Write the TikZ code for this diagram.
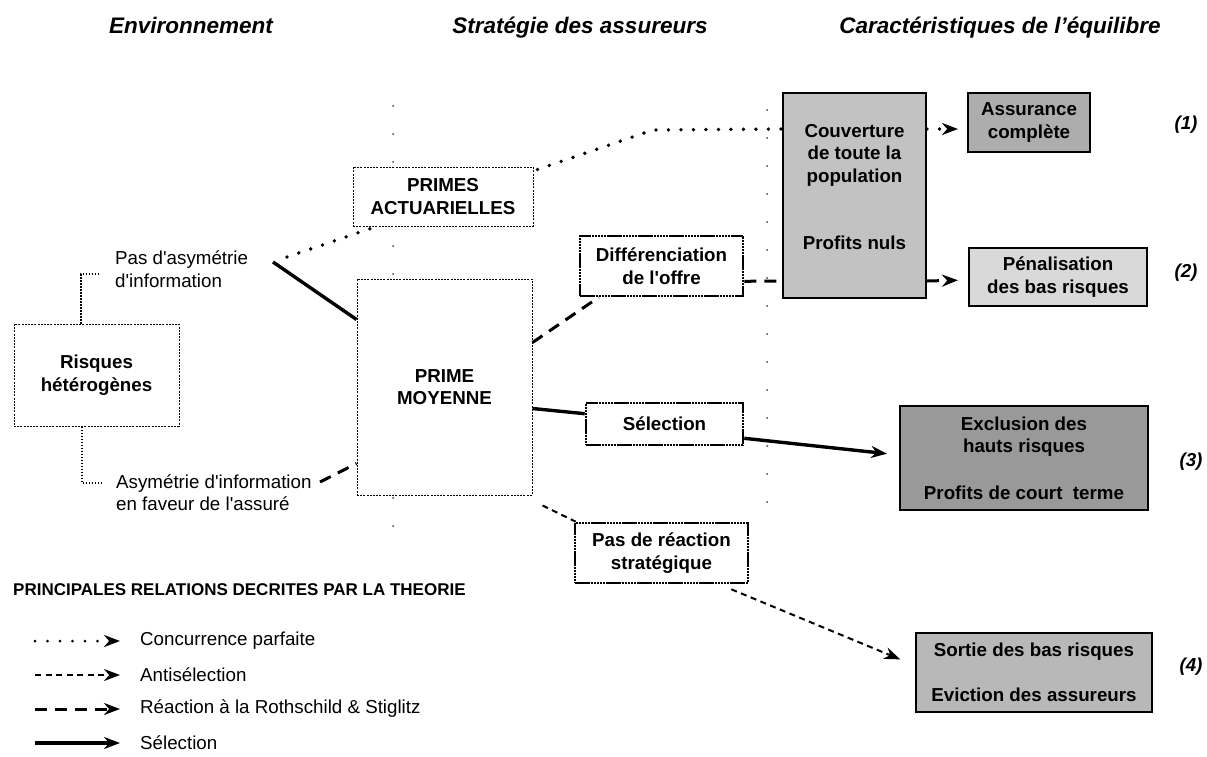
\documentclass[tikz,border=0pt]{standalone}
\usepackage{fontspec}
\setmainfont{Liberation Sans}
\usetikzlibrary{arrows.meta,calc}
\newcommand\qs{\textquotesingle}
\tikzset{
  every node/.style={font=\fontsize{18.75}{22.5}\selectfont},
  hdr/.style={font=\fontsize{22.5}{26}\selectfont\bfseries\itshape, anchor=base},
  lbl/.style={align=left, anchor=west, inner sep=0pt},
  thinbox/.style={draw, line width=1pt, dash pattern=on 2pt off 1.2pt, fill=white, align=center,
    font=\fontsize{18.75}{22.5}\selectfont\bfseries, inner sep=0pt},
  thickbox/.style={draw, line width=2.6pt, dash pattern=on 2.5pt off 0.6pt, fill=white, align=center,
    font=\fontsize{18.75}{22.5}\selectfont\bfseries, inner sep=0pt},
  shadebox/.style={draw, line width=2pt, align=center,
    font=\fontsize{18.75}{22.5}\selectfont\bfseries, inner sep=0pt},
  numlbl/.style={font=\fontsize{18.75}{22.5}\selectfont\bfseries\itshape},
  thindot/.style={line width=1.1pt, dash pattern=on 1.5pt off 1.5pt},
  conc/.style={line width=3.8pt, dash pattern=on 0pt off 12.5pt, line cap=round},
  anti/.style={line width=2pt, dash pattern=on 6pt off 4.5pt},
  roth/.style={line width=3pt, dash pattern=on 12pt off 8pt},
  sel/.style={line width=3.4pt},
  tip/.style={-{Stealth[length=16pt,width=12pt]}},
  sepline/.style={line width=2pt, dash pattern=on 0pt off 28pt, line cap=round, black!75},
}
\begin{document}
\begin{tikzpicture}[x=1pt,y=-1pt]
\useasboundingbox (0,0) rectangle (1207,757);
\fill[white] (0,0) rectangle (1207,757);

% column separators
\draw[sepline] (393,106) -- (393,545);
\draw[sepline] (767,110) -- (767,525);

% headers
\node[hdr] (h1) at (191,34) {Environnement};
\node[hdr] (h2) at (580,34) {Stratégie des assureurs};
\node[hdr] (h3) at (1000,34) {Caractéristiques de l’équilibre};

% boxes
\node[thinbox, minimum width=165pt, minimum height=102pt] (risq) at (96.5,375) {Risques\\hétérogènes};
\node[thinbox, minimum width=180pt, minimum height=59pt] (primes) at (443,196.5) {PRIMES\\ACTUARIELLES};
\node[thinbox, minimum width=175pt, minimum height=216pt] (prime) at (444.5,387) {PRIME\\MOYENNE};
\node[thickbox, minimum width=163pt, minimum height=60pt] (diff) at (661.5,266) {Différenciation\\de l\qs offre};
\node[thickbox, minimum width=157pt, minimum height=42pt] (sel) at (664.5,424) {Sélection};
\node[thickbox, minimum width=173pt, minimum height=60pt] (reac) at (661.5,553) {Pas de réaction\\stratégique};

\node[shadebox, fill=black!24, minimum width=143pt, minimum height=205pt] (couv) at (854.5,195.5) {};
\node[font=\fontsize{18.75}{22.5}\selectfont\bfseries, align=center, inner sep=0pt] (couvt) at (854.5,155) {Couverture\\de toute la\\population};
\node[font=\fontsize{18.75}{22.5}\selectfont\bfseries, inner sep=0pt] (couvp) at (854.5,243) {Profits nuls};
\node[shadebox, fill=black!32, minimum width=122pt, minimum height=59pt] (assur) at (1029,122.5) {Assurance\\complète};
\node[shadebox, fill=black!15, minimum width=178pt, minimum height=58pt] (penal) at (1058,277) {Pénalisation\\des bas risques};
\node[shadebox, fill=black!40, minimum width=248pt, minimum height=104pt] (excl) at (1024,458) {Exclusion des\\hauts risques\\[24pt]Profits de court~ terme};
\node[shadebox, fill=black!28, minimum width=236pt, minimum height=79pt] (sortie) at (1034,672.5) {Sortie des bas risques\\[23pt]Eviction des assureurs};

\node[numlbl] (n1) at (1186,125) {(1)};
\node[numlbl] (n2) at (1186,273) {(2)};
\node[numlbl] (n3) at (1191,462) {(3)};
\node[numlbl] (n4) at (1191,667) {(4)};

% environment labels
\node[lbl] (pasasym) at (115,269) {Pas d\qs asymétrie\\d\qs information};
\node[lbl] (asym) at (116,492.5) {Asymétrie d\qs information\\en faveur de l\qs assuré};
\coordinate (pa) at (98,274);
\coordinate (as) at (103,483);
\draw[thindot] ($(risq.north)+(-15.5,0)$) |- (pa);
\draw[thindot] ($(risq.south)+(-14.5,0)$) |- (as);

\coordinate (paS) at (273,262);
\coordinate (paD) at (287,257);
\coordinate (asR) at (320,482);

% concurrence parfaite
\draw[conc] (paD) -- ($(primes.south west)+(24,0)$);
\draw[conc] ($(primes.north east)+(4,3)$) -- (653,130) -- ($(couv.north west)+(0,37)$);
\draw[conc, tip, shorten >=9pt] ($(couv.north east)+(0,37)$) -- ($(assur.north west)+(0,37)$);

% selection (solid)
\draw[sel] (paS) -- ($(prime.north west)+(0,41)$);
\draw[sel] ($(prime.south east)+(0,-87)$) -- ($(sel.north west)+(0,12)$);
\draw[sel, tip, shorten >=12pt] ($(sel.south east)+(0,-8)$) -- ($(excl.west)+(0,-3)$);

% Rothschild & Stiglitz
\draw[roth] (asR) -- ($(prime.south west)+(0,-32)$);
\draw[roth] ($(prime.north east)+(0,64)$) -- ($(diff.south west)+(20,0)$);
\draw[roth] ($(diff.south east)+(0,-16)$) -- ($(couv.south west)+(0,-18)$);
\draw[roth, tip, shorten >=10pt] ($(couv.south east)+(0,-18)$) -- ($(penal.west)+(0,3)$);

% antiselection
\draw[anti] ($(prime.south east)+(10,10)$) -- ($(reac.north west)+(2,0)$);
\draw[anti, tip, shorten >=16pt] ($(reac.south east)+(-18,5)$) -- ($(sortie.west)+(0,-7)$);

% legend
\node[anchor=west, inner sep=0pt, font=\fontsize{17}{20}\selectfont\bfseries] (legt) at (13,590) {PRINCIPALES RELATIONS DECRITES PAR LA THEORIE};
\coordinate (l1a) at (35,641); \coordinate (l1b) at (120,641);
\coordinate (l2a) at (35,675); \coordinate (l2b) at (120,675);
\coordinate (l3a) at (35,709); \coordinate (l3b) at (120,709);
\coordinate (l4a) at (35,743); \coordinate (l4b) at (120,743);
\draw[conc, line width=3pt, tip] (l1a) -- (l1b);
\draw[anti, tip] (l2a) -- (l2b);
\draw[roth, tip] (l3a) -- (l3b);
\draw[sel, tip] (l4a) -- (l4b);
\node[lbl] (lt1) at (140,641) {Concurrence parfaite};
\node[lbl] (lt2) at (140,675) {Antisélection};
\node[lbl] (lt3) at (140,709) {Réaction à la Rothschild \& Stiglitz};
\node[lbl] (lt4) at (140,743) {Sélection};
\end{tikzpicture}
\end{document}
